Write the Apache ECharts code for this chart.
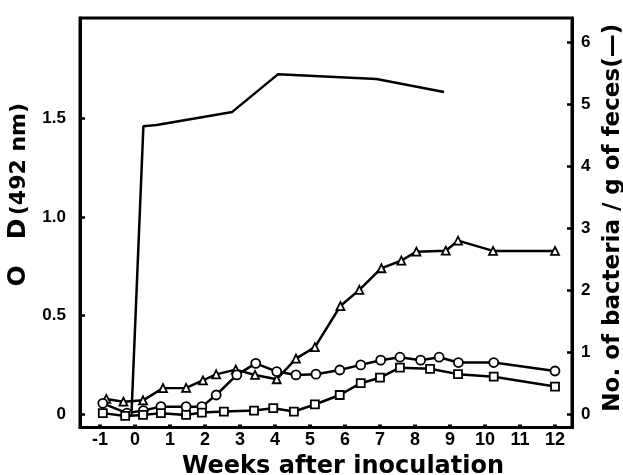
<!DOCTYPE html>
<html>
<head>
<meta charset="utf-8">
<script src="https://cdn.jsdelivr.net/npm/echarts@6/dist/echarts.min.js"></script>
<style>
  html, body { margin: 0; padding: 0; background: #fff; }
  #chart { width: 623px; height: 475px; }
</style>
</head>
<body>
<div id="chart"></div>
<script>
// bacteria count (right axis), solid line without markers
const bacteriaWeeks = [-0.1, 0.24, 0.62, 2.78, 4.09, 6.90, 8.83];
const bacteriaValues = [0, 4.65, 4.67, 4.88, 5.49, 5.41, 5.20];

// OD series (left axis)
const triWeeks = [-0.82, -0.33, 0.23, 0.80, 1.46, 1.94, 2.32, 2.88, 3.43, 4.05, 4.60, 5.14, 5.87, 6.41, 7.04, 7.61, 8.04, 8.88, 9.23, 10.23, 12];
const triValues = [0.076, 0.062, 0.069, 0.131, 0.132, 0.170, 0.201, 0.225, 0.198, 0.176, 0.281, 0.339, 0.548, 0.630, 0.740, 0.779, 0.824, 0.829, 0.880, 0.828, 0.828];

const circWeeks = [-0.92, -0.23, 0.24, 0.74, 1.46, 1.91, 2.32, 2.91, 3.45, 4.05, 4.60, 5.17, 5.85, 6.45, 7.02, 7.57, 8.16, 8.69, 9.24, 10.25, 12];
const circValues = [0.054, 0.004, 0.017, 0.037, 0.037, 0.037, 0.096, 0.198, 0.257, 0.215, 0.198, 0.202, 0.223, 0.249, 0.273, 0.288, 0.273, 0.288, 0.261, 0.261, 0.218];

const sqWeeks = [-0.92, -0.28, 0.23, 0.74, 1.46, 1.91, 2.54, 3.40, 3.95, 4.54, 5.14, 5.85, 6.45, 7.00, 7.57, 8.43, 9.23, 10.25, 12];
const sqValues = [0.004, -0.010, -0.005, 0.004, -0.005, 0.007, 0.012, 0.017, 0.029, 0.012, 0.048, 0.096, 0.156, 0.184, 0.235, 0.229, 0.202, 0.189, 0.139];

// tick labels
const weekTicks = [-1, 0, 1, 2, 3, 4, 5, 6, 7, 8, 9, 10, 11, 12];
const odTicks = [0, 0.5, 1.0, 1.5];
const countTicks = [0, 1, 2, 3, 4, 5, 6];

const zip = (xs, ys) => xs.map((x, i) => [x, ys[i]]);

const font = "'Liberation Sans', Arial, sans-serif";
const titleFont = "'DejaVu Sans', sans-serif";

const myChart = echarts.init(document.getElementById('chart'));

const markerSeries = (weeks, values, symbol, size) => ({
    type: 'line',
    yAxisIndex: 0,
    data: zip(weeks, values),
    symbol: symbol,
    symbolSize: size,
    showAllSymbol: true,
    lineStyle: { color: '#000', width: 2.5 },
    itemStyle: { color: '#fff', borderColor: '#000', borderWidth: 1.8 },
    z: 3
});

const option = {
    backgroundColor: '#fff',
    animation: false,
    grid: {
        left: 80,
        right: 51,
        top: 18,
        bottom: 47.5,
        outerBoundsMode: 'none',
        containLabel: false,
        show: true,
        borderColor: '#000',
        borderWidth: 3
    },
    xAxis: {
        type: 'value',
        min: -1.571,
        max: 12.486,
        name: 'Weeks after inoculation',
        nameLocation: 'middle',
        nameGap: 19,
        nameTextStyle: {
            fontFamily: titleFont, fontWeight: 'bold', fontSize: 24, color: '#000',
            padding: [0, 0, 0, 34]
        },
        axisLine: { show: true, onZero: false, lineStyle: { color: '#000', width: 3 } },
        axisTick: {
            show: true,
            inside: true,
            length: 3,
            customValues: weekTicks,
            lineStyle: { color: '#000', width: 4 }
        },
        axisLabel: {
            customValues: weekTicks,
            margin: 4,
            fontFamily: font,
            fontWeight: 'bold',
            fontSize: 18,
            color: '#000'
        },
        splitLine: { show: false }
    },
    yAxis: [
        {
            type: 'value',
            position: 'left',
            min: -0.069,
            max: 2.011,
            name: '{a|O}{s|}{a|D} {b|(492 nm)}',
            nameLocation: 'middle',
            nameRotate: 90,
            nameGap: 40,
            nameTextStyle: {
                color: '#000',
                padding: [0, 0, 0, 56],
                rich: {
                    a: { fontFamily: titleFont, fontWeight: 'bold', fontSize: 25, color: '#000' },
                    s: { width: 26 },
                    b: { fontFamily: titleFont, fontWeight: 'bold', fontSize: 22, color: '#000' }
                }
            },
            axisLine: { show: true, onZero: false, lineStyle: { color: '#000', width: 3 } },
            axisTick: {
                show: true,
                inside: true,
                length: 5,
                customValues: odTicks,
                lineStyle: { color: '#000', width: 2.5 }
            },
            axisLabel: {
                customValues: odTicks,
                margin: 14,
                fontFamily: font,
                fontWeight: 'bold',
                fontSize: 17,
                color: '#000',
                formatter: v => (v === 0 ? '0' : v.toFixed(1))
            },
            splitLine: { show: false }
        },
        {
            type: 'value',
            position: 'right',
            min: -0.218,
            max: 6.397,
            name: 'No. of bacteria / g of feces(—)',
            nameLocation: 'middle',
            nameRotate: 90,
            nameGap: 23,
            nameTextStyle: {
                fontFamily: titleFont, fontWeight: 'bold', fontSize: 23, color: '#000',
                padding: [0, 0, 0, 10]
            },
            axisLine: { show: true, onZero: false, lineStyle: { color: '#000', width: 3 } },
            axisTick: {
                show: true,
                inside: true,
                length: 5,
                customValues: countTicks,
                lineStyle: { color: '#000', width: 2.5 }
            },
            axisLabel: {
                customValues: countTicks,
                margin: 9,
                fontFamily: font,
                fontWeight: 'bold',
                fontSize: 17,
                color: '#000'
            },
            splitLine: { show: false }
        }
    ],
    series: [
        {
            type: 'line',
            yAxisIndex: 1,
            data: zip(bacteriaWeeks, bacteriaValues),
            symbol: 'none',
            lineStyle: { color: '#000', width: 2.5 },
            z: 2
        },
        markerSeries(triWeeks, triValues, 'triangle', 8),
        markerSeries(circWeeks, circValues, 'circle', 9),
        markerSeries(sqWeeks, sqValues, 'rect', 8)
    ]
};

myChart.setOption(option);
window.addEventListener('resize', () => {
    myChart.resize();
});
</script>
</body>
</html>
